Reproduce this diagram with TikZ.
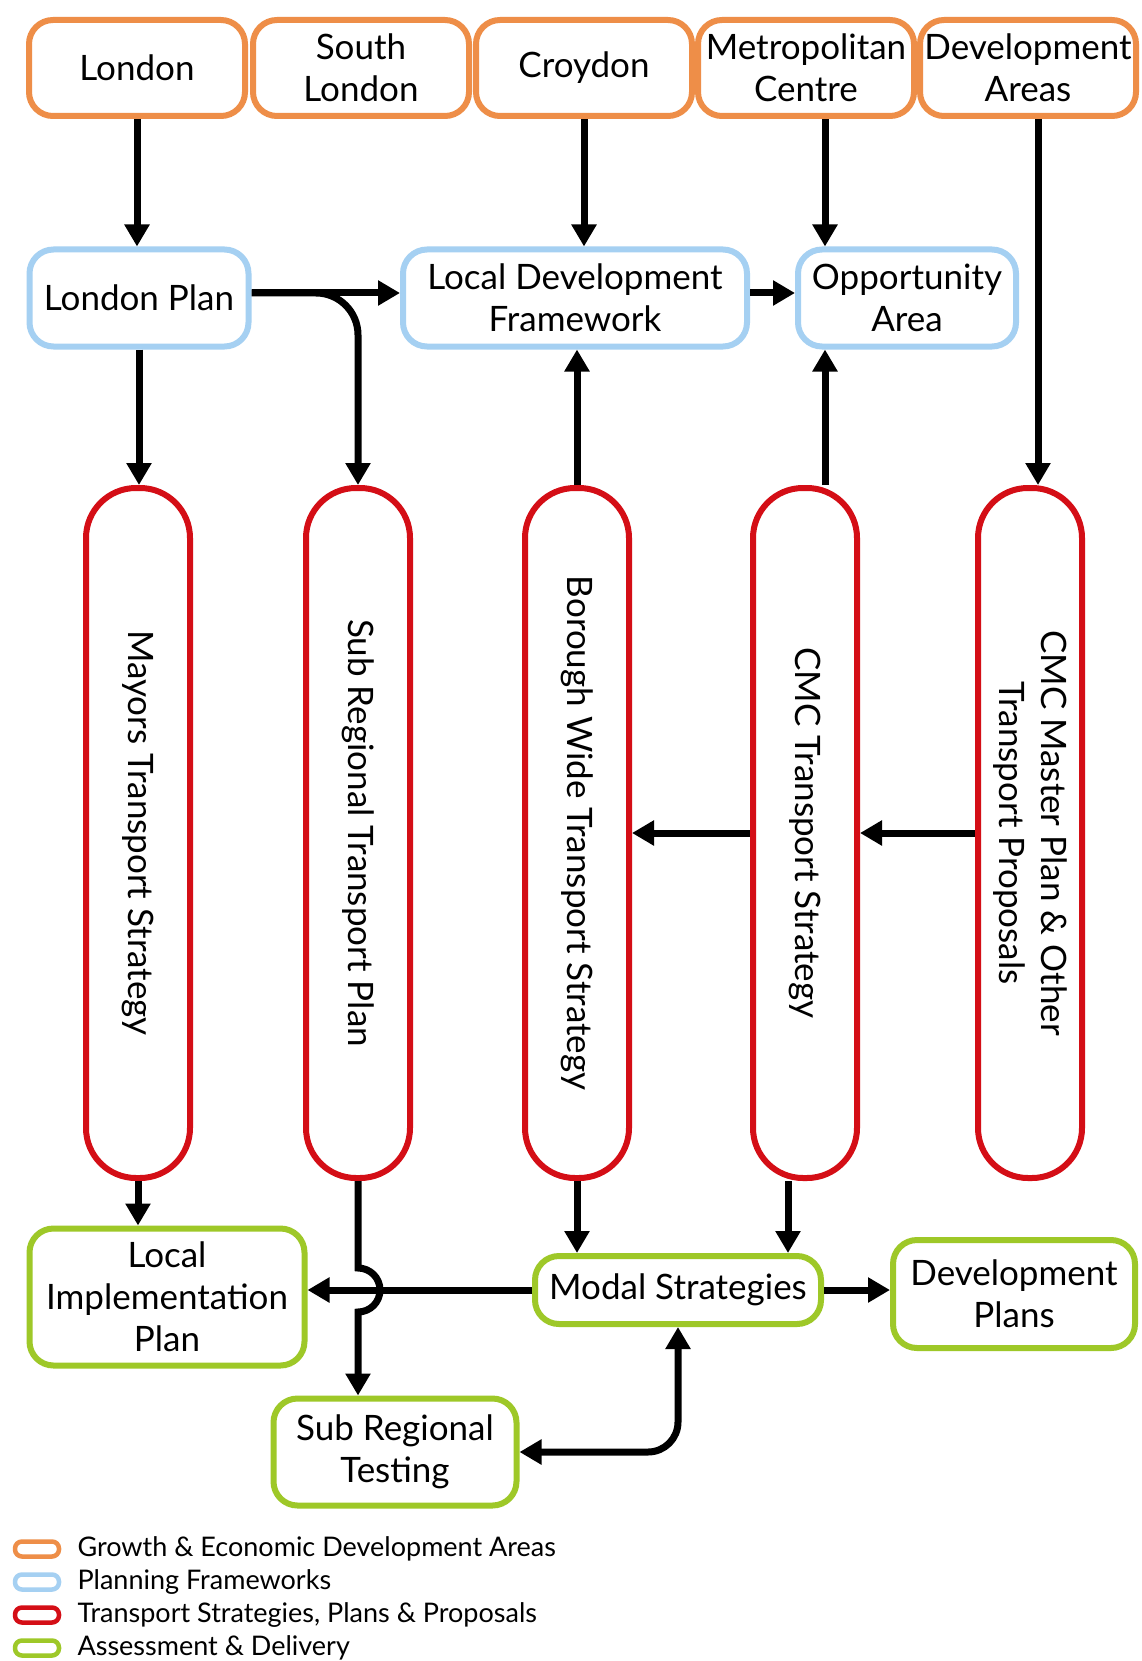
\documentclass[tikz,border=0pt]{standalone}
\usepackage{fontspec}
\setmainfont{Lato}
\usepackage{tikz}
\usetikzlibrary{shapes,arrows,arrows.meta,positioning,calc,fit,backgrounds}
\definecolor{growthorange}{RGB}{238,142,72}
\definecolor{planblue}{RGB}{165,208,242}
\definecolor{transportred}{RGB}{212,14,22}
\definecolor{deliverygreen}{RGB}{158,200,40}

\tikzset{
  box/.style={draw, rounded corners=24pt, line width=6pt, align=center, fill=white, font=\fontsize{35}{42}\selectfont},
  growth/.style={box, draw=growthorange, minimum width=216pt, minimum height=96pt},
  planning/.style={box, draw=planblue, minimum height=97pt},
  transport/.style={box, draw=transportred, rounded corners=50pt, rotate=-90, minimum width=690pt, minimum height=104pt},
  delivery/.style={box, draw=deliverygreen},
  arr/.style={line width=7pt, -{Triangle[length=22pt,width=24pt]}},
  key/.style={draw, line width=4.5pt, rounded corners=7pt, minimum width=44pt, minimum height=15pt, inner sep=0pt},
  keytext/.style={anchor=west, font=\fontsize{27}{32}\selectfont}
}

\begin{document}
\begin{tikzpicture}[x=1pt, y=1pt]
  \useasboundingbox[fill=white] (0,0) rectangle (1141,-1661);

  % growth areas
  \node[growth] (london) at (137,-68) {London};
  \node[growth] (slondon) at (361,-68) {South\\London};
  \node[growth] (croydon) at (584,-68) {Croydon};
  \node[growth] (metro) at (806,-68) {Metropolitan\\Centre};
  \node[growth] (devareas) at (1028,-68) {Development\\Areas};

  % planning frameworks
  \node[planning, minimum width=219pt] (lplan) at (139,-298) {London Plan};
  \node[planning, minimum width=344pt] (ldf) at (575,-298) {Local Development\\Framework};
  \node[planning, minimum width=218pt] (oa) at (907,-298) {Opportunity\\Area};

  % transport strategies (rotated: west = top, east = bottom)
  \node[transport] (mts) at (138,-833) {Mayors Transport Strategy};
  \node[transport] (srtp) at (358,-833) {Sub Regional Transport Plan};
  \node[transport] (bwts) at (577,-833) {Borough Wide Transport Strategy};
  \node[transport] (cmct) at (805,-833) {CMC Transport Strategy};
  \node[transport] (cmcmp) at (1030,-833) {CMC Master Plan \& Other\\Transport Proposals};

  % assessment and delivery
  \node[delivery, minimum width=275pt, minimum height=137pt] (lip) at (167,-1297) {Local\\Implementation\\Plan};
  \node[delivery, minimum width=286pt, minimum height=68pt] (modal) at (678,-1290) {Modal Strategies};
  \node[delivery, minimum width=242pt, minimum height=108pt] (devplans) at (1014,-1294) {Development\\Plans};
  \node[delivery, minimum width=243pt, minimum height=107pt] (srt) at (395,-1452) {Sub Regional\\Testing};

  \coordinate (lpout) at ($(lplan.east)+(0,5)$);
  \coordinate (mcout) at ($(metro.south)+(19,0)$);
  \coordinate (daout) at ($(devareas.south)+(10,0)$);
  \coordinate (cmcup) at ($(cmct.west)+(20,0)$);
  \coordinate (cmcdown) at ($(cmct.east)+(-17,0)$);

  % connectors
  \draw[arr] (london.south) -- (london.south |- lplan.north);
  \draw[arr] (croydon.south) -- (croydon.south |- ldf.north);
  \draw[arr] (mcout) -- (mcout |- oa.north);
  \draw[arr] (daout) -- (daout |- cmcmp.west);
  \draw[arr] (lpout) -- (lpout -| ldf.west);
  \draw[arr, rounded corners=42pt] (lpout) -| (srtp.west);
  \draw[arr] (ldf.east |- lpout) -- (lpout -| oa.west);
  \draw[arr] (lplan.south) -- (lplan.south |- mts.west);
  \draw[arr] (bwts.west) -- (bwts.west |- ldf.south);
  \draw[arr] (cmcup) -- (cmcup |- oa.south);
  \draw[arr] (cmcmp.south) -- (cmct.north);
  \draw[arr] (cmct.south) -- (bwts.north);
  \draw[arr] (mts.east) -- (mts.east |- lip.north);
  \draw[arr] (bwts.east) -- (bwts.east |- modal.north);
  \draw[arr] (cmcdown) -- (cmcdown |- modal.north);
  \draw[arr] (modal.west) -- (modal.west -| lip.east);
  \draw[arr] (modal.east) -- (modal.east -| devplans.west);
  \draw[arr] (srtp.east) -- ($(srtp.east |- modal.west)+(0,22)$) arc[start angle=90, end angle=-90, radius=22] -- (srtp.east |- srt.north);
  \draw[arr, {Triangle[length=22pt,width=24pt]}-{Triangle[length=22pt,width=24pt]}, rounded corners=30pt] (srt.east) -| (modal.south);

  % legend
  \node[key, draw=growthorange] (k1) at (37,-1549) {};
  \node[key, draw=planblue] (k2) at (37,-1582) {};
  \node[key, draw=transportred] (k3) at (37,-1615) {};
  \node[key, draw=deliverygreen] (k4) at (37,-1648) {};
  \node[keytext] at (74,-1549) {Growth \& Economic Development Areas};
  \node[keytext] at (74,-1582) {Planning Frameworks};
  \node[keytext] at (74,-1615) {Transport Strategies, Plans \& Proposals};
  \node[keytext] at (74,-1648) {Assessment \& Delivery};
\end{tikzpicture}
\end{document}
